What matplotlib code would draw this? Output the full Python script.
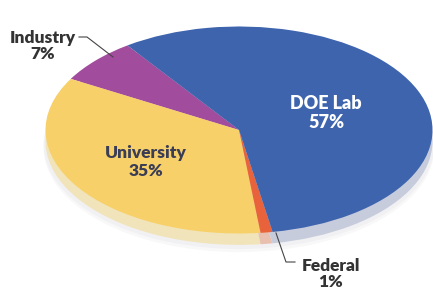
import matplotlib.pyplot as plt
from matplotlib.patches import Ellipse

plt.rcParams['font.family'] = ['Lato', 'DejaVu Sans']

labels = ['Industry', 'University', 'Federal', 'DOE Lab']
shares = [7, 35, 1, 57]
colors = ['#a24c9d', '#f8d069', '#e8623c', '#3d64ad']
edge_colors = ['#d9c3dc', '#f1e4bb', '#e9c0b0', '#c7ccdd']

fig = plt.figure(figsize=(4.33, 2.92), dpi=100)
ax = fig.add_axes([0, 0, 1, 1])

# soft shadow under the disc
for dy, a in [(-0.17, 0.25), (-0.14, 0.35)]:
    ax.add_patch(Ellipse((0.0, dy), 2.02, 2.02, color='#e6e6ea', alpha=a, lw=0))

# disc thickness
ax.pie(shares, colors=edge_colors, startangle=125.2, counterclock=True,
       center=(0.0, -0.11), radius=1.0, wedgeprops=dict(linewidth=0))
# top surface
ax.pie(shares, colors=colors, startangle=125.2, counterclock=True,
       center=(0.0, 0.0), radius=1.0, wedgeprops=dict(linewidth=0))

ax.set_aspect('auto')
ax.set_xlim(-239 / 193.5, (433 - 239) / 193.5)
ax.set_ylim(-(292 - 130) / 103.5, 130 / 103.5)
ax.axis('off')

def pos(px, py):
    return px / 433, 1 - py / 292

ax.text(*pos(326, 113), 'DOE Lab\n57%', transform=ax.transAxes, ha='center', va='center',
        color='white', fontsize=13, fontweight='heavy', linespacing=1.1)
ax.text(*pos(146, 162), 'University\n35%', transform=ax.transAxes, ha='center', va='center',
        color='#3a3d55', fontsize=12.5, fontweight='heavy', linespacing=1.1)
ax.text(*pos(43, 46), 'Industry\n7%', transform=ax.transAxes, ha='center', va='center',
        color='#333333', fontsize=12.5, fontweight='heavy', linespacing=1.05)
ax.text(*pos(331, 274), 'Federal\n1%', transform=ax.transAxes, ha='center', va='center',
        color='#333333', fontsize=12.5, fontweight='heavy', linespacing=1.05)

# leader lines
xs, ys = zip(*[pos(79, 37), pos(87, 37), pos(113, 57)])
ax.plot(xs, ys, color='#444444', lw=0.8, transform=ax.transAxes)
xs, ys = zip(*[pos(276, 233), pos(286, 262), pos(295, 262)])
ax.plot(xs, ys, color='#444444', lw=0.8, transform=ax.transAxes)

fig.savefig('out.png', dpi=100, facecolor='white')
